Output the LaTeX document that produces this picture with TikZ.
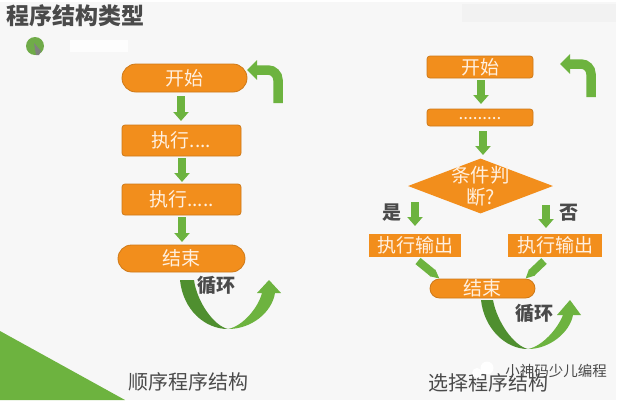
\documentclass[tikz,border=0pt]{standalone}
\usepackage{fontspec}
\setmainfont{Noto Sans CJK SC}
\usetikzlibrary{arrows.meta,shapes.geometric,shapes.misc,positioning}
\definecolor{boxorange}{HTML}{F28E1C}
\definecolor{flowgreen}{HTML}{6DB33F}
\definecolor{darkgreen}{HTML}{4F8F2F}
\definecolor{labelgray}{HTML}{4A4A4A}
\definecolor{paper}{HTML}{F7F7F7}
\tikzset{
  stepbox/.style={draw=boxorange!85!black,fill=boxorange,rounded corners=3pt,minimum height=31pt,
    text=white!88!orange,font=\fontsize{19}{19}\selectfont,inner sep=0pt,line width=.8pt},
  pillbox/.style={stepbox,rounded rectangle,rounded corners=0pt},
  flow/.style={draw=flowgreen,line width=8pt,-{Triangle[length=9pt,width=15pt]}},
  wedge/.style={draw=flowgreen,line width=8pt,-{Triangle[length=9pt,width=8pt]}},
  bigflow/.style={flow,line width=9.5pt,rounded corners=10pt,-{Triangle[length=10pt,width=19pt]}},
  graylabel/.style={text=labelgray,font=\fontsize{19}{19}\selectfont\bfseries,inner sep=0pt},
  caption/.style={text=labelgray,font=\fontsize{20}{20}\selectfont,inner sep=0pt},
}
\begin{document}
\begin{tikzpicture}[x=1pt,y=-1pt]
  \useasboundingbox (0,0) rectangle (627,400);
  \fill[white] (0,0) rectangle (627,400);
  \fill[paper] (0,2) rectangle (616,400);
  \fill[flowgreen] (0,331) -- (125,400) -- (0,400) -- cycle;
  \fill[black!5] (462,4) rectangle (616,22);
  \fill[white!70!paper] (70,40) rectangle (128,52);
  \fill[flowgreen!85!gray] (35,46) circle (9);
  \fill[gray] (34,43) -- (41,51) -- (39,55) -- (36,55) -- cycle;

  \node[text=labelgray,inner sep=0pt,font=\fontsize{23}{23}\selectfont\bfseries] (title) at (75.5,16) {程序结构类型};

  % left column
  \node[pillbox,minimum width=125pt,minimum height=28pt] (starta) at (184.5,78) {开始};
  \node[stepbox,minimum width=119pt] (runa) at (181.5,140.5) {执行....};
  \node[stepbox,minimum width=119pt] (runb) at (181.5,199.5) {执行.....};
  \node[pillbox,minimum width=127pt,minimum height=27pt] (enda) at (181.5,258.5) {结束};
  \draw[flow] (181,96) -- (181,121);
  \draw[flow] (182,158) -- (182,182);
  \draw[flow] (182,217) -- (182,242);
  \coordinate (loopa) at (278,103);
  \coordinate (loopb) at (247,70);
  \draw[bigflow] (loopa) |- (loopb);
  % left swoosh
  \fill[darkgreen] (180,280) .. controls (183,310) and (205,329) .. (228,329)
    .. controls (214,326) and (197,302) .. (194,280) -- cycle;
  \fill[flowgreen] (228,329) .. controls (252,329) and (272,312) .. (275,293) -- (281,293) -- (269,280)
    -- (257,293) -- (262,293) .. controls (258,308) and (243,326) .. (228,329) -- cycle;
  \node[graylabel] (loopc) at (216,285) {循环};
  \node[caption] (capa) at (188.5,382) {顺序程序结构};

  % right column
  \node[stepbox,minimum width=106pt,minimum height=22pt] (startb) at (480,67) {开始};
  \node[stepbox,minimum width=106pt,minimum height=17pt,font=\fontsize{17}{17}\selectfont] (runc) at (480,117.5) {\raisebox{-4pt}{.........}};
  \node[diamond,aspect=2.6,fill=boxorange,inner sep=0pt,minimum width=145pt,minimum height=55pt,
    label={[text=white!88!orange,font=\fontsize{19.5}{22}\selectfont,align=center,inner sep=0pt]center:条件判\\断?}] (test) at (480.5,186) {};
  \node[stepbox,rounded corners=0pt,draw=none,minimum width=92pt,minimum height=23pt] (outa) at (415,245.5) {执行输出};
  \node[stepbox,rounded corners=0pt,draw=none,minimum width=94pt,minimum height=23pt] (outb) at (555,245.5) {执行输出};
  \node[pillbox,minimum width=105pt,minimum height=19pt] (endb) at (482.5,288.5) {结束};
  \draw[flow] (481,80) -- (481,104);
  \draw[flow] (483,131) -- (483,155);
  \draw[flow] (415,202) -- (415,226);
  \draw[flow] (546,205) -- (546,228);
  \coordinate (slanta) at (418,261);
  \coordinate (slantb) at (544,261);
  \draw[wedge] (slanta) -- (endb.north west);
  \draw[wedge] (slantb) -- (endb.north east);
  \coordinate (loopd) at (591,97);
  \coordinate (loope) at (560,64);
  \draw[bigflow] (loopd) |- (loope);
  \node[graylabel] (yes) at (392,213) {是};
  \node[graylabel] (no) at (569,213) {否};
  % right swoosh
  \fill[darkgreen] (481,300) .. controls (484,328) and (505,349) .. (528,349)
    .. controls (514,346) and (497,322) .. (493,300) -- cycle;
  \fill[flowgreen] (528,349) .. controls (550,349) and (570,332) .. (573,315) -- (581,315) -- (570,300)
    -- (557,315) -- (563,315) .. controls (558,328) and (543,346) .. (528,349) -- cycle;
  \node[graylabel] (loopf) at (534,313) {循环};
  \node[caption] (capb) at (488,383) {选择程序结构};
  % watermark
  \fill[white] (487,368) circle (6.5);
  \fill[white] (477,373) circle (5);
  \node[inner sep=0pt,text=labelgray,font=\fontsize{14.5}{15}\selectfont] (mark) at (556,371) {小神码少儿编程};
\end{tikzpicture}
\end{document}
